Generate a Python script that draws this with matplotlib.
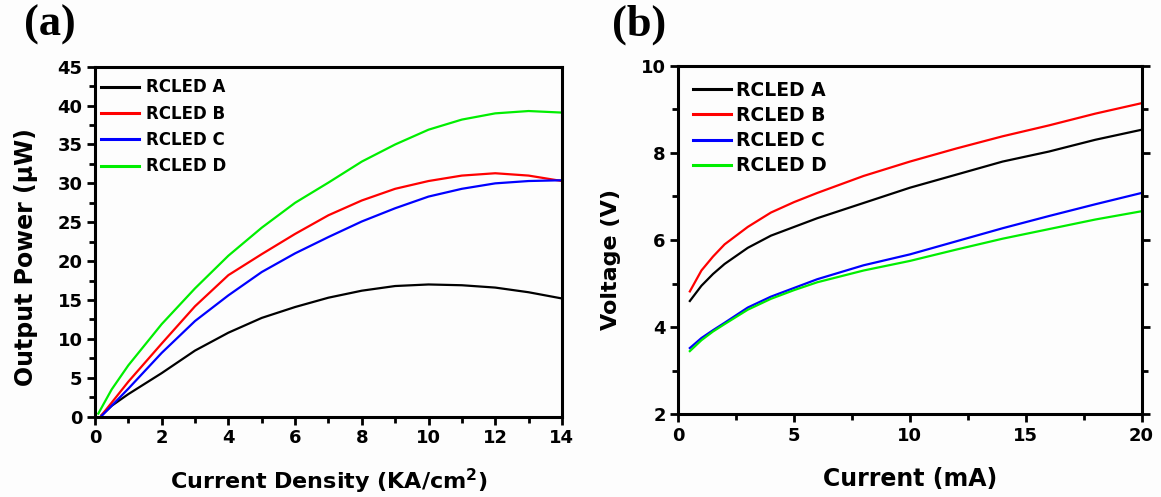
import matplotlib
matplotlib.use("Agg")
import matplotlib.pyplot as plt
from matplotlib.ticker import MultipleLocator

plt.rcParams["font.family"] = ["DejaVu Sans"]
plt.rcParams["font.weight"] = "bold"
plt.rcParams["mathtext.fontset"] = "dejavusans"

# ── (a) output power vs current density ─────────────────────────────
labels = ["RCLED A", "RCLED B", "RCLED C", "RCLED D"]
colors = ["#000000", "#ff0000", "#0000ff", "#00ee00"]

jd = [0.2, 0.5, 1, 2, 3, 4, 5, 6, 7, 8, 9, 10, 11, 12, 13, 14]
jd_d = [0.1, 0.5, 1, 2, 3, 4, 5, 6, 7, 8, 9, 10, 11, 12, 13, 14]
pow_a = [0.2, 1.4, 2.9, 5.6, 8.5, 10.8, 12.7, 14.1, 15.3, 16.2, 16.8, 17.0, 16.9, 16.6, 16.0, 15.2]
pow_b = [0.2, 1.8, 4.5, 9.4, 14.2, 18.2, 20.9, 23.5, 25.9, 27.8, 29.3, 30.3, 31.0, 31.3, 31.0, 30.3]
pow_c = [0.1, 1.4, 3.6, 8.2, 12.3, 15.6, 18.6, 21.0, 23.1, 25.1, 26.8, 28.3, 29.3, 30.0, 30.3, 30.4]
pow_d = [0.4, 3.5, 6.6, 11.9, 16.5, 20.7, 24.3, 27.5, 30.1, 32.8, 35.0, 36.9, 38.2, 39.0, 39.3, 39.1]

# ── (b) voltage vs current ──────────────────────────────────────────
cur = [0.5, 1, 1.5, 2, 3, 4, 5, 6, 8, 10, 12, 14, 16, 18, 20]
v_a = [4.60, 4.95, 5.22, 5.45, 5.82, 6.10, 6.30, 6.50, 6.85, 7.20, 7.50, 7.80, 8.03, 8.30, 8.53]
v_b = [4.82, 5.30, 5.62, 5.90, 6.30, 6.63, 6.87, 7.08, 7.47, 7.80, 8.10, 8.38, 8.63, 8.90, 9.14]
v_c = [3.52, 3.75, 3.93, 4.10, 4.45, 4.70, 4.90, 5.10, 5.42, 5.67, 5.97, 6.27, 6.55, 6.82, 7.08]
v_d = [3.45, 3.70, 3.90, 4.07, 4.40, 4.65, 4.85, 5.03, 5.30, 5.52, 5.78, 6.03, 6.25, 6.47, 6.66]

fig = plt.figure(figsize=(11.61, 4.97), dpi=100)
fig.patch.set_facecolor("#fdfdfd")
ax1 = fig.add_axes([0.0818, 0.1616, 0.4022, 0.7042])
ax2 = fig.add_axes([0.5842, 0.1664, 0.3991, 0.7014])


def style(ax):
    ax.set_facecolor("#fdfdfd")
    for s in ax.spines.values():
        s.set_linewidth(2.2)
    ax.tick_params(which="major", direction="out", length=6, width=2, labelsize=13, pad=3)
    ax.tick_params(which="minor", direction="out", length=4, width=2)
    for t in ax.get_xticklabels() + ax.get_yticklabels():
        t.set_fontweight("bold")


# panel a
xs = [jd, jd, jd, jd_d]
for x, y, c, l in zip(xs, [pow_a, pow_b, pow_c, pow_d], colors, labels):
    ax1.plot(x, y, color=c, lw=1.6, label=l)
ax1.set_xlim(0, 14); ax1.set_ylim(0, 45)
ax1.xaxis.set_major_locator(MultipleLocator(2)); ax1.xaxis.set_minor_locator(MultipleLocator(1))
ax1.yaxis.set_major_locator(MultipleLocator(5)); ax1.yaxis.set_minor_locator(MultipleLocator(2.5))
style(ax1)
ax1.set_xlabel(r"Current Density (KA/cm$^{\mathbf{2}}$)", fontsize=16, fontweight="bold", labelpad=14)
ax1.set_ylabel("Output Power (\u03bcW)", fontsize=17, fontweight="bold", labelpad=14)
ax1.yaxis.label.set_y(0.455)
leg1 = ax1.legend(loc="upper left", bbox_to_anchor=(-0.012, 1.0), frameon=False,
                  prop={"size": 12, "weight": "bold"}, handlelength=2.3,
                  handletextpad=0.4, labelspacing=0.5, borderaxespad=0.3)
for h in leg1.get_lines():
    h.set_linewidth(2.2)
fig.text(0.021, 0.95, "(a)", family=["Liberation Serif"], fontweight="bold", fontsize=32, va="center")

# panel b
for y, c, l in zip([v_a, v_b, v_c, v_d], colors, labels):
    ax2.plot(cur, y, color=c, lw=1.6, label=l)
ax2.set_xlim(0, 20); ax2.set_ylim(2, 10)
ax2.xaxis.set_major_locator(MultipleLocator(5)); ax2.xaxis.set_minor_locator(MultipleLocator(2.5))
ax2.yaxis.set_major_locator(MultipleLocator(2)); ax2.yaxis.set_minor_locator(MultipleLocator(1))
style(ax2)
ax2.tick_params(axis="y", which="both", right=True)
ax2.set_xlabel("Current (mA)", fontsize=17, fontweight="bold", labelpad=16)
ax2.set_ylabel("Voltage (V)", fontsize=16, fontweight="bold", labelpad=14)
ax2.yaxis.label.set_y(0.445)
leg2 = ax2.legend(loc="upper left", bbox_to_anchor=(0.0, 1.0), frameon=False,
                  prop={"size": 13.5, "weight": "bold"}, handlelength=2.0,
                  handletextpad=0.3, labelspacing=0.33, borderaxespad=0.4)
for h in leg2.get_lines():
    h.set_linewidth(2.2)
fig.text(0.527, 0.95, "(b)", family=["Liberation Serif"], fontweight="bold", fontsize=32, va="center")

fig.savefig("out.png", dpi=100, facecolor=fig.get_facecolor())
